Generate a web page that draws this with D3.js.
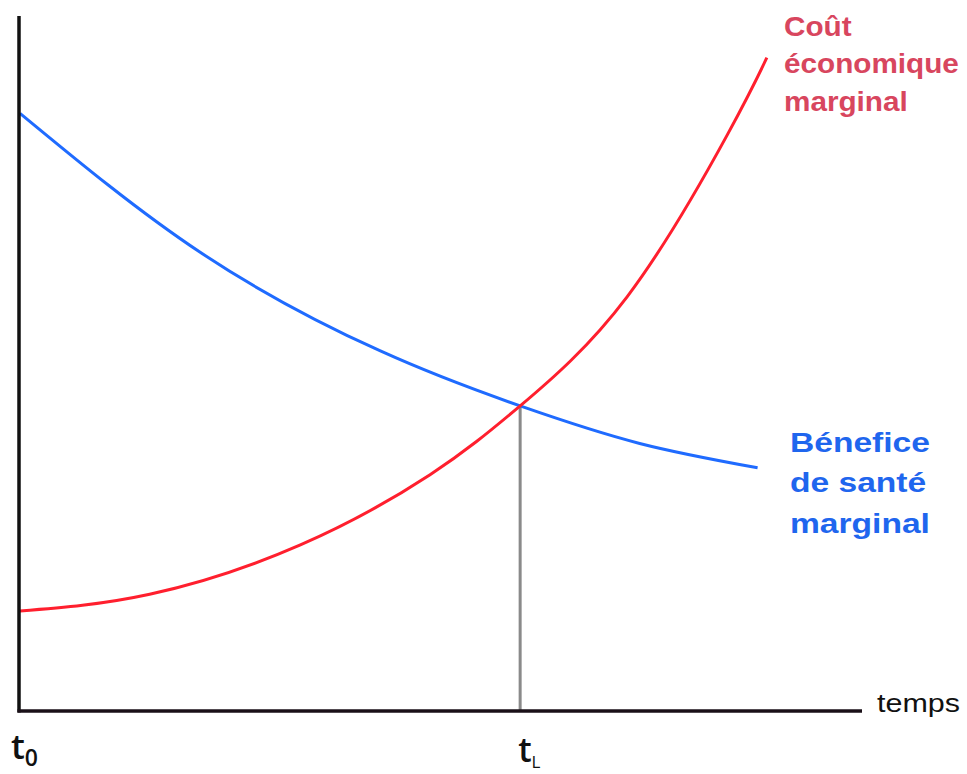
<!DOCTYPE html>
<html>
<head>
<meta charset="utf-8">
<script src="https://cdn.jsdelivr.net/npm/d3@7"></script>
<style>
    body { margin: 0; background: #fff; }
    svg { display: block; font-family: "Liberation Sans", Arial, sans-serif; }
</style>
</head>
<body>
<div id="chart"></div>
<script>
/*global d3 */
// data, time and value both on a 0..100 scale
var timeBenefit = [0, 21.4, 42.8, 59.4, 73.6, 87.6],
    benefit = [86.0, 66.0, 51.8, 43.9, 38.5, 35.0],
    timeCost = [0, 15.4, 33.3, 48.7, 59.4, 72.1, 84.0, 88.7],
    cost = [14.4, 16.8, 23.9, 34.0, 43.9, 59.6, 82.9, 94.0],
    tL = 59.4,
    tL_value = 43.9,
    costLabel = ["Coût", "économique", "marginal"],
    benefitLabel = ["Bénefice", "de santé", "marginal"],
    axisLabel = "temps";

(function () {
    'use strict';
    var width = 967,
        height = 774,
        svg = d3.select("#chart").append("svg")
            .attr("width", width)
            .attr("height", height),

        x = d3.scaleLinear().domain([0, 100]).range([20, 862]),
        y = d3.scaleLinear().domain([0, 100]).range([711, 16]),

        line = d3.line()
            .x(function (d) { return x(d[0]); })
            .y(function (d) { return y(d[1]); })
            .curve(d3.curveNatural),

        benefitPts = d3.zip(timeBenefit, benefit),
        costPts = d3.zip(timeCost, cost);

    // t_L drop line
    svg.append("line")
        .attr("x1", x(tL)).attr("x2", x(tL))
        .attr("y1", y(tL_value)).attr("y2", y(0))
        .attr("stroke", "#8a8a8a")
        .attr("stroke-width", 3);

    // curves
    svg.append("path")
        .datum(benefitPts)
        .attr("d", line)
        .attr("fill", "none")
        .attr("stroke", "#1f6bff")
        .attr("stroke-width", 3);

    svg.append("path")
        .datum(costPts)
        .attr("d", line)
        .attr("fill", "none")
        .attr("stroke", "#ff1f2e")
        .attr("stroke-width", 3);

    // axes - plain lines, no ticks
    svg.append("line")
        .attr("x1", x(0) - 1).attr("x2", x(0) - 1)
        .attr("y1", y(100)).attr("y2", y(0) + 1.5)
        .attr("stroke", "#111")
        .attr("stroke-width", 3.5);
    svg.append("line")
        .attr("x1", x(0) - 2.5).attr("x2", x(100))
        .attr("y1", y(0)).attr("y2", y(0))
        .attr("stroke", "#1a1018")
        .attr("stroke-width", 3.5);

    svg.append("text")
        .attr("x", 877).attr("y", 712)
        .attr("font-size", 25)
        .attr("textLength", 83)
        .attr("lengthAdjust", "spacingAndGlyphs")
        .attr("fill", "#111")
        .text(axisLabel);

    // t0 and tL
    var t0 = svg.append("text")
        .attr("x", x(0) - 9).attr("y", 759)
        .attr("font-family", "'Open Sans', sans-serif")
        .attr("font-weight", 600)
        .attr("font-size", 35)
        .attr("fill", "#111");
    t0.append("tspan").text("t");
    t0.append("tspan").attr("font-size", 23).attr("dy", 7).text("0");

    var tl = svg.append("text")
        .attr("x", x(tL) - 2).attr("y", 762)
        .attr("font-family", "'Open Sans', sans-serif")
        .attr("font-weight", 600)
        .attr("font-size", 34)
        .attr("fill", "#111");
    tl.append("tspan").text("t");
    tl.append("tspan").attr("font-size", 17).attr("dy", 6).attr("font-weight", 400).text("L");

    // curve labels
    svg.selectAll(".cost-label")
        .data(costLabel)
        .enter().append("text")
        .attr("class", "cost-label")
        .attr("x", 784)
        .attr("y", function (d, i) { return 36 + i * 37.5; })
        .attr("font-size", 27)
        .attr("font-weight", "bold")
        .attr("fill", "#d8465e")
        .attr("transform", "translate(784,0) scale(1.1,1) translate(-784,0)")
        .text(function (d) { return d; });

    svg.selectAll(".benefit-label")
        .data(benefitLabel)
        .enter().append("text")
        .attr("class", "benefit-label")
        .attr("x", 790)
        .attr("y", function (d, i) { return 452 + i * 40.5; })
        .attr("font-size", 28)
        .attr("font-weight", "bold")
        .attr("fill", "#1f66ee")
        .attr("transform", "translate(790,0) scale(1.2,1) translate(-790,0)")
        .text(function (d) { return d; });
}());
</script>
</body>
</html>
